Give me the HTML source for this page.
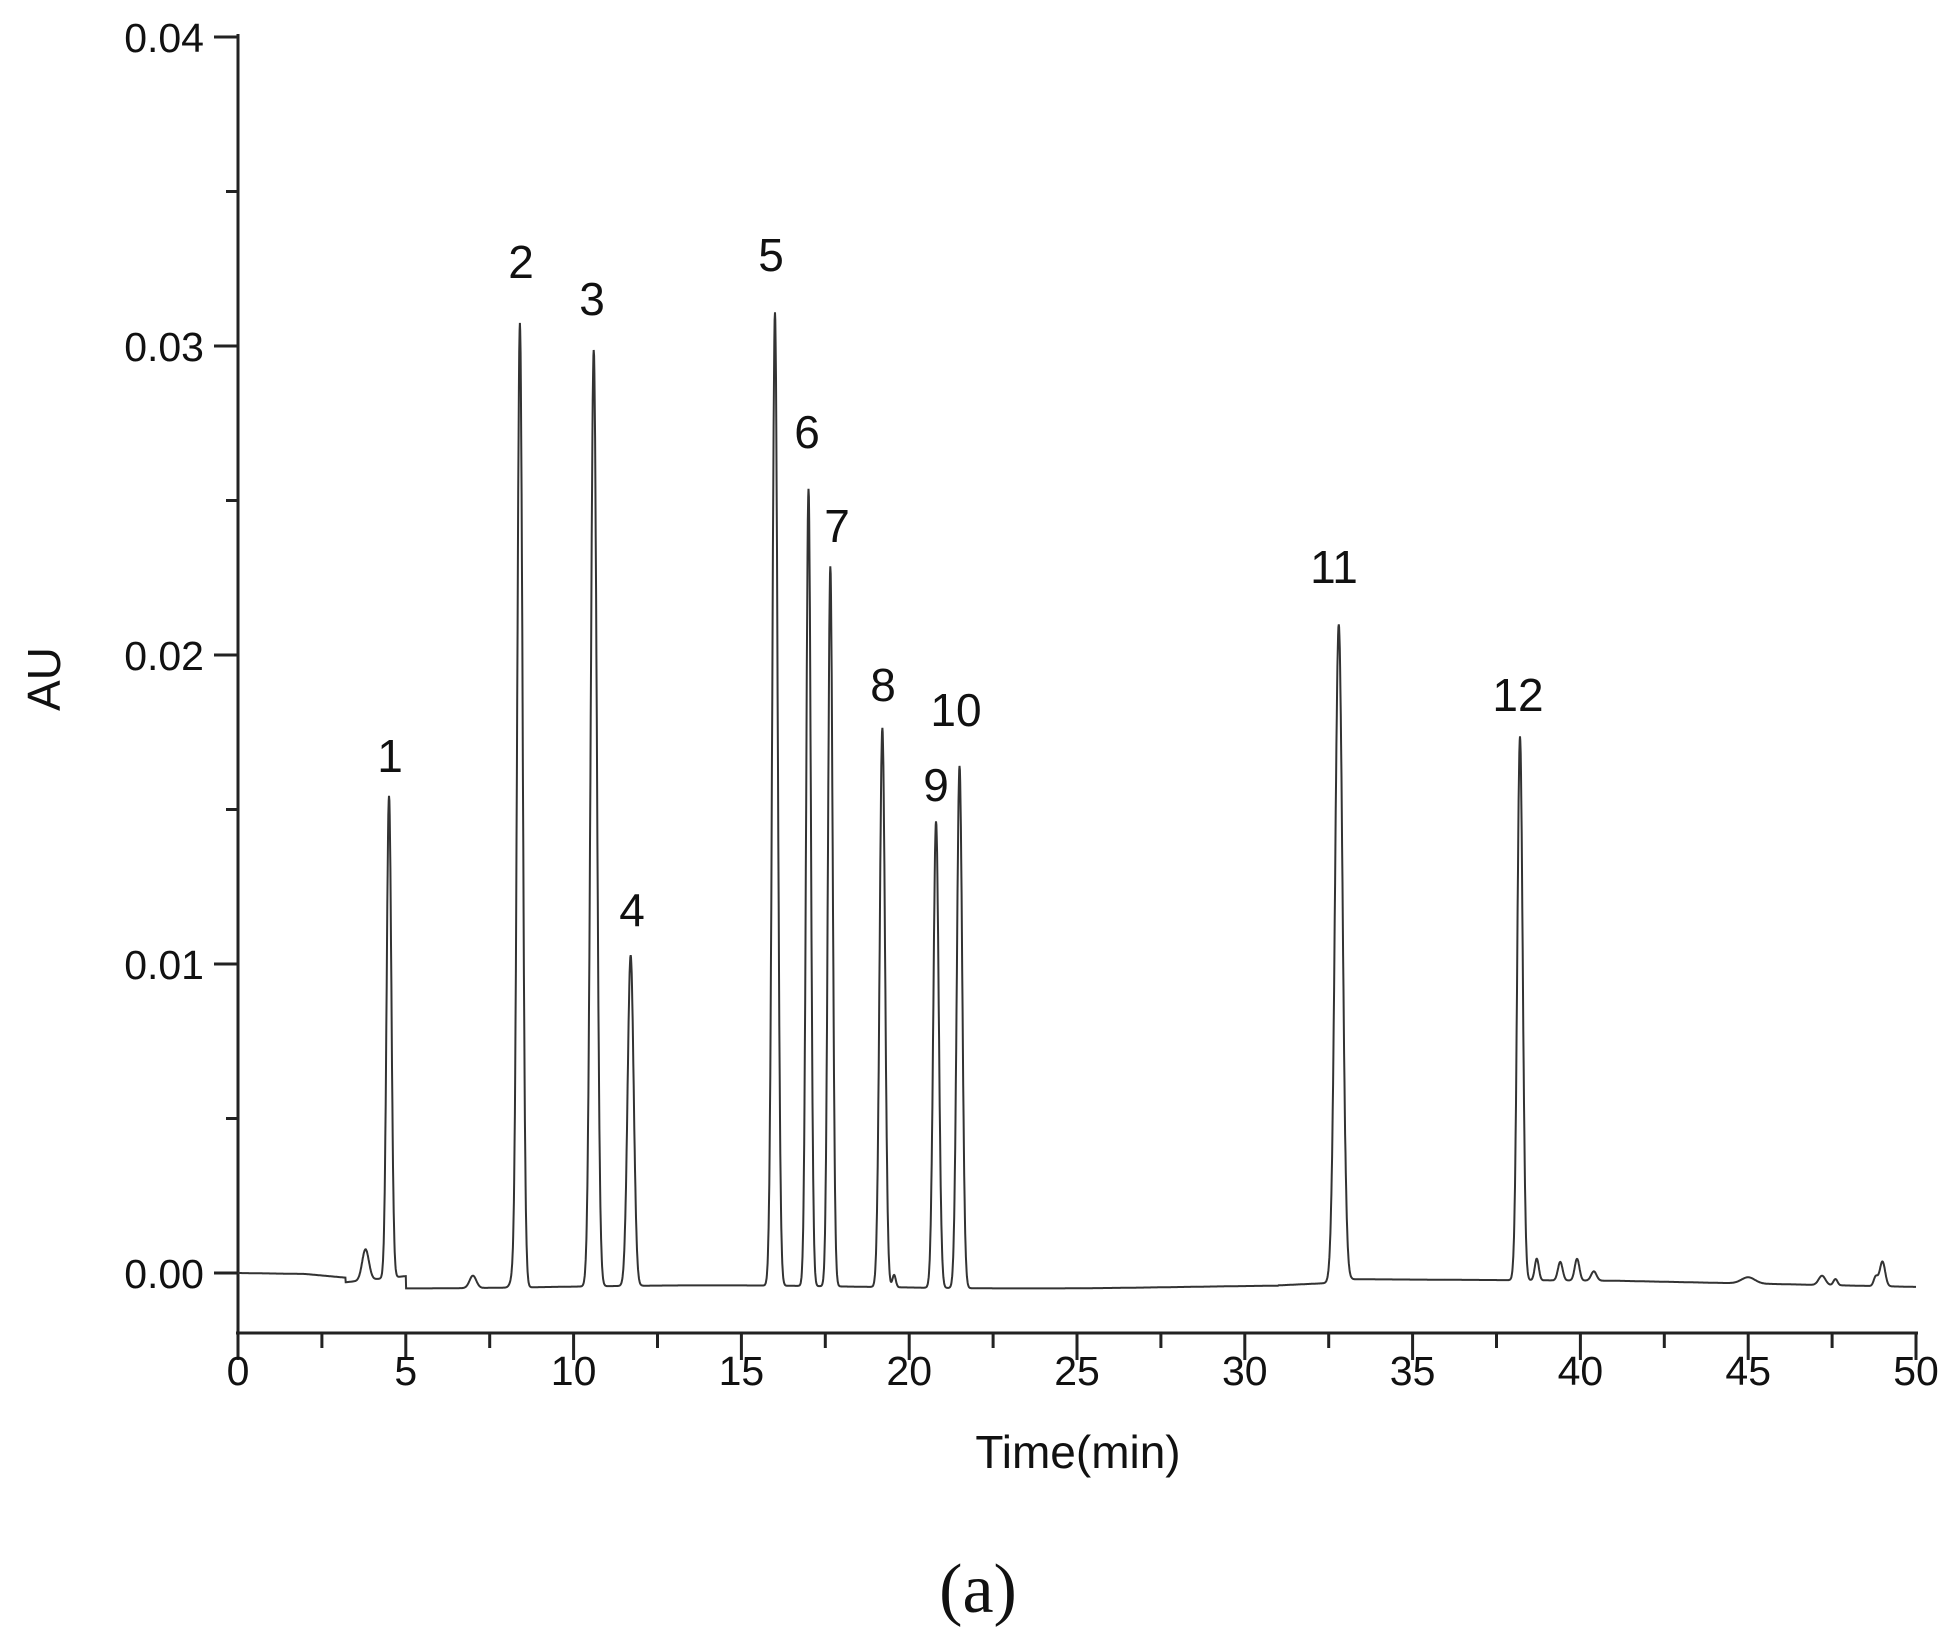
<!DOCTYPE html>
<html><head><meta charset="utf-8"><style>
html,body{margin:0;padding:0;background:#fff;}
svg{display:block;}
text{font-family:"Liberation Sans",sans-serif;fill:#111;}
</style></head><body>
<svg id="s" width="1954" height="1640" viewBox="0 0 1954 1640" xmlns="http://www.w3.org/2000/svg">
<g stroke="#222" stroke-width="3" fill="none">
<line x1="238" y1="34" x2="238" y2="1335"/>
<line x1="236" y1="1333" x2="1918" y2="1333"/>
</g>
<g id="ticks" stroke="#222" stroke-width="3"></g>
<g id="labels" font-size="41" text-anchor="middle"></g>
<path id="trace" fill="none" stroke="#333" stroke-width="2"/>
<g font-size="46" text-anchor="middle">
<text x="390" y="772">1</text><text x="521" y="278">2</text><text x="592" y="315">3</text>
<text x="632" y="926">4</text><text x="771" y="271">5</text><text x="807" y="448">6</text>
<text x="837" y="542">7</text><text x="883" y="701">8</text><text x="936" y="801">9</text>
<text x="956" y="726">10</text><text x="1334" y="583">11</text><text x="1518" y="711">12</text>
</g>
<text x="1078" y="1468" font-size="46" text-anchor="middle">Time(min)</text>
<text transform="translate(60,679) rotate(-90)" font-size="46" text-anchor="middle">AU</text>
<text x="978" y="1612" font-size="70" text-anchor="middle" style="font-family:'Liberation Serif',serif">(a)</text>
</svg>
<script>
var X=function(t){return 238+t*33.56;},Y=function(v){return 1273-v*30900;};
var tk=document.getElementById('ticks'),lb=document.getElementById('labels'),ns='http://www.w3.org/2000/svg';
function ln(a,b,c,d){var l=document.createElementNS(ns,'line');l.setAttribute('x1',a);l.setAttribute('y1',b);l.setAttribute('x2',c);l.setAttribute('y2',d);tk.appendChild(l);}
function tx(x,y,s,anc){var t=document.createElementNS(ns,'text');t.setAttribute('x',x);t.setAttribute('y',y);if(anc)t.setAttribute('text-anchor',anc);t.textContent=s;lb.appendChild(t);}
for(var i=0;i<=8;i++){var v=i*0.005,y=Y(v);if(i%2==0){ln(214,y,238,y);tx(204,y+15,v.toFixed(2),'end');}else ln(226,y,238,y);}
for(var i=0;i<=20;i++){var t=i*2.5,x=X(t);if(i%2==0){ln(x,1333,x,1360);tx(x,1385,String(t));}else ln(x,1333,x,1348);}
var pk=[[3.8,0.001,0.1],[4.5,0.0156,0.07],[7.0,0.0004,0.1],[8.2,0.0003,0.08],[8.4,0.0312,0.08],[10.6,0.0303,0.09],[11.7,0.0107,0.09],[16.0,0.0315,0.08],[17.0,0.0258,0.07],[17.65,0.0233,0.07],[19.2,0.0181,0.08],[19.55,0.0004,0.05],[20.8,0.0151,0.08],[21.5,0.0169,0.08],[32.8,0.0213,0.11],[38.2,0.0176,0.08],[38.7,0.0007,0.06],[39.4,0.0006,0.07],[39.9,0.0007,0.07],[40.4,0.0003,0.08],[45.0,0.0002,0.2],[47.2,0.0003,0.1],[47.6,0.0002,0.06],[49.0,0.0008,0.08],[48.8,0.0003,0.06]];
function base(t){if(t<3.2)return -0.00005*t/3.2-0.0001*Math.max(0,t-2)/1.2;if(t<5)return -0.0003+0.0002*(t-3.2)/1.8;if(t<31)return -0.00045-0.00005*Math.sin(t/3);if(t<33)return -0.0004+0.0001*(t-31)/2;if(t<41)return -0.0002-0.00005*(t-33)/8;return -0.00025-0.0002*(t-41)/9;}
var d='';for(var t=0;t<=50;t+=0.01){var v=base(t);for(var j=0;j<pk.length;j++){var p=pk[j],z=(t-p[0])/p[2];v+=p[1]*Math.exp(-0.5*z*z);}d+=(t==0?'M':'L')+X(t).toFixed(1)+' '+Y(v).toFixed(1);}
document.getElementById('trace').setAttribute('d',d);
</script>
</body></html>
